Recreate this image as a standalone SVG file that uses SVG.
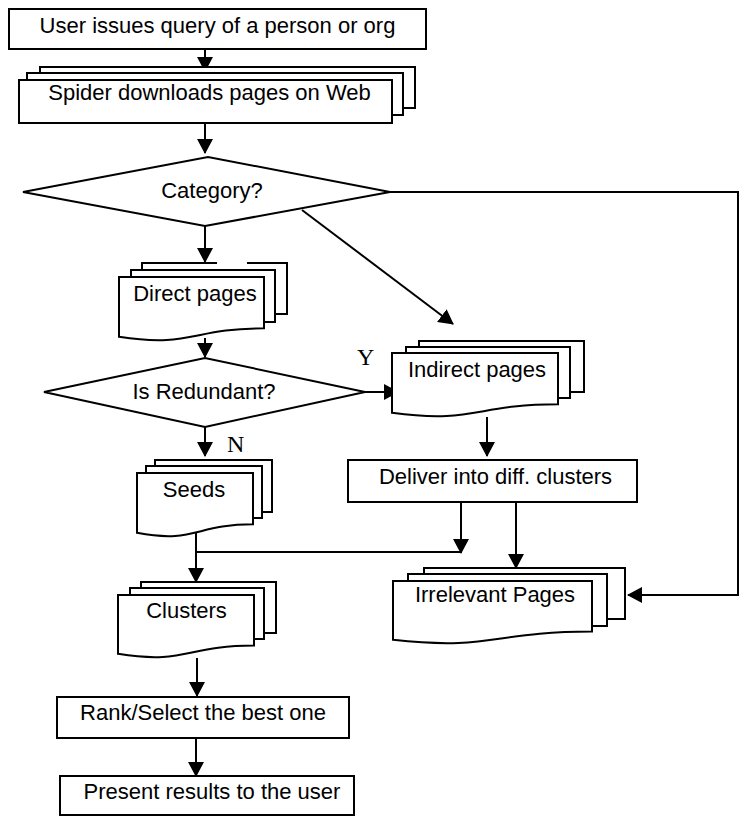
<svg xmlns="http://www.w3.org/2000/svg" width="739" height="817" viewBox="0 0 739 817">
<style>
.s{fill:#fff;stroke:#000;stroke-width:2}
.t{font-family:"Liberation Sans",Arial,sans-serif;font-size:22px;fill:#000;text-anchor:middle}
.l{font-family:"Liberation Serif","Times New Roman",serif;font-size:24px;fill:#000}
.c{fill:none;stroke:#000;stroke-width:2}
</style>
<defs>
<marker id="a" markerUnits="userSpaceOnUse" markerWidth="15" markerHeight="16" viewBox="0 0 15 16" refX="14" refY="8" orient="auto">
<path d="M0,0 L15,8 L0,16 z" fill="#000"/>
</marker>
</defs>
<rect width="739" height="817" fill="#fff"/>
<g id="connectors" class="c">
<line x1="205" y1="49" x2="205" y2="71" marker-end="url(#a)"/>
<line x1="205" y1="123" x2="205" y2="153" marker-end="url(#a)"/>
<line x1="205" y1="226" x2="205" y2="262" marker-end="url(#a)"/>
<line x1="205" y1="338" x2="205" y2="357" marker-end="url(#a)"/>
<line x1="365" y1="392" x2="398" y2="392" marker-end="url(#a)"/>
<line x1="205" y1="427" x2="205" y2="456" marker-end="url(#a)"/>
<line x1="302" y1="210" x2="453" y2="324" marker-end="url(#a)"/>
<polyline points="390,192 738,192 738,595 628,595" marker-end="url(#a)"/>
<line x1="487" y1="417" x2="487" y2="456" marker-end="url(#a)"/>
<line x1="461" y1="502" x2="461" y2="553" marker-end="url(#a)"/>
<line x1="196" y1="552" x2="461" y2="552"/>
<line x1="196" y1="532" x2="196" y2="582" marker-end="url(#a)"/>
<line x1="516" y1="502" x2="516" y2="568" marker-end="url(#a)"/>
<line x1="197" y1="658" x2="197" y2="696" marker-end="url(#a)"/>
<line x1="196" y1="738" x2="196" y2="776" marker-end="url(#a)"/>
</g>
<g id="n-user">
<rect class="s" x="9" y="9" width="417" height="40"/>
<text class="t" x="217.5" y="33">User issues query of a person or org</text>
</g>
<g id="n-spider">
<rect class="s" x="40" y="67" width="375" height="41"/>
<rect class="s" x="27" y="73" width="376" height="42"/>
<rect class="s" x="19" y="80" width="373" height="43"/>
<text class="t" x="209.5" y="100">Spider downloads pages on Web</text>
</g>
<g id="n-category">
<polygon class="s" points="23,192 208,157 390,192 205,226"/>
<text class="t" x="212" y="198">Category?</text>
</g>
<g id="n-direct">
<rect x="142" y="263" width="145" height="51" fill="#fff"/>
<path class="c" d="M217,263 H142 V314 M247,263 H287 V314 H142"/>
<rect class="s" x="131" y="270" width="144" height="52"/>
<path class="s" d="M119,277 H264 V328.3 C191.5,328.3 191.5,348 119,336.8 Z"/>
<text class="t" x="195" y="301">Direct pages</text>
</g>
<g id="n-redundant">
<polygon class="s" points="44,392 205,358 365,392 205,427"/>
<text class="t" x="204" y="399">Is Redundant?</text>
</g>
<g id="n-indirect">
<rect class="s" x="419" y="341" width="165" height="51"/>
<rect class="s" x="406" y="347" width="164" height="51"/>
<path class="s" d="M392,353 H558 V404.3 C475,404.3 475,423.8 392,412.8 Z"/>
<text class="t" x="477" y="377">Indirect pages</text>
</g>
<g id="n-seeds">
<rect class="s" x="155" y="460" width="117" height="52"/>
<rect class="s" x="146" y="466" width="116" height="52"/>
<path class="s" d="M137,473 H253 V524.3 C195,524.3 195,543.8 137,532.8 Z"/>
<text class="t" x="194" y="497">Seeds</text>
</g>
<g id="n-deliver">
<rect class="s" x="348" y="460" width="289" height="42"/>
<text class="t" x="495.5" y="484">Deliver into diff. clusters</text>
</g>
<g id="n-clusters">
<rect class="s" x="141" y="582" width="135" height="51"/>
<rect class="s" x="130" y="588" width="134" height="51"/>
<path class="s" d="M118,595 H254 V645.5 C186,645.5 186,664.7 118,653.8 Z"/>
<text class="t" x="186.5" y="618">Clusters</text>
</g>
<g id="n-irrelevant">
<rect class="s" x="424" y="568" width="201" height="51"/>
<rect class="s" x="408" y="574" width="199" height="52"/>
<path class="s" d="M393,581 H592 V631.5 C492.5,631.5 492.5,650.7 393,639.8 Z"/>
<text class="t" x="495" y="602">Irrelevant Pages</text>
</g>
<g id="n-rank">
<rect class="s" x="57" y="697" width="292" height="41"/>
<text class="t" x="203" y="720">Rank/Select the best one</text>
</g>
<g id="n-present">
<rect class="s" x="60" y="776" width="294" height="39"/>
<text class="t" x="212" y="799">Present results to the user</text>
</g>
<g id="labels">
<text class="l" x="357" y="365">Y</text>
<text class="l" x="227" y="452">N</text>
</g>
</svg>
